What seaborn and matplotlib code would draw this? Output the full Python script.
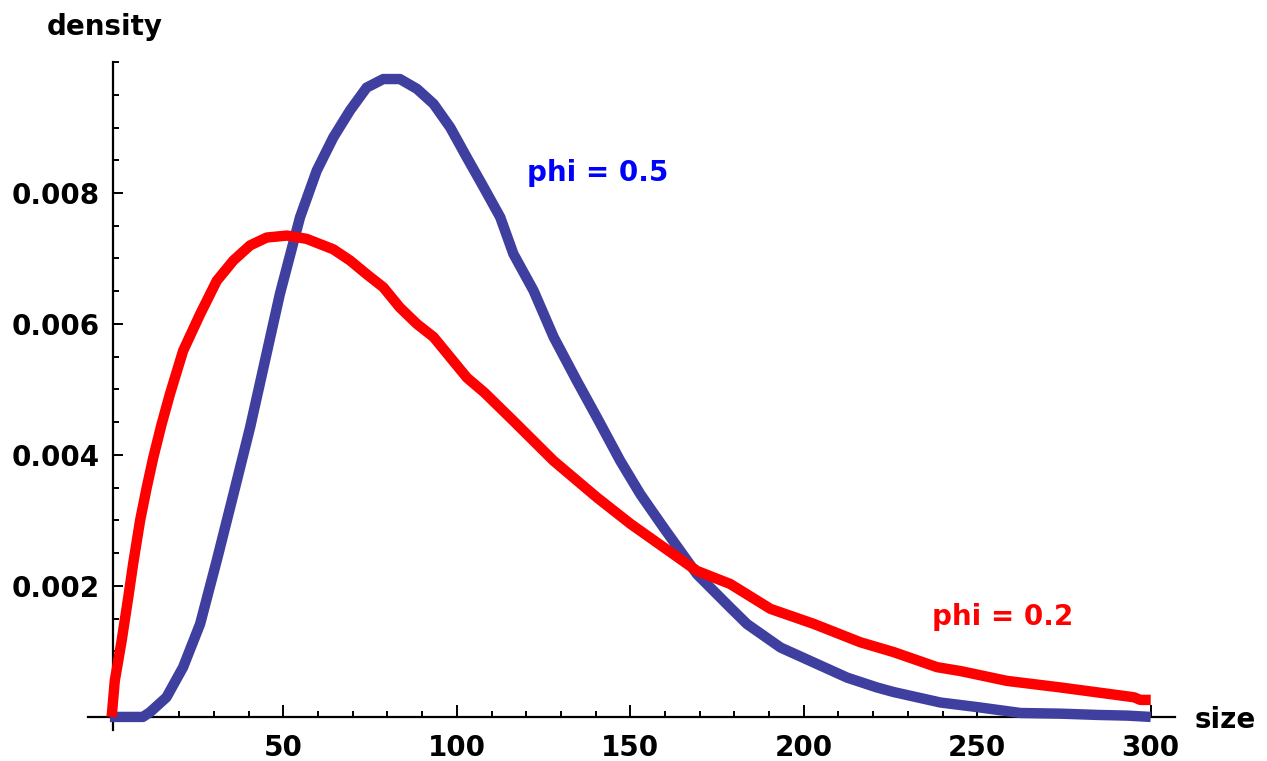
import numpy as np
import pandas as pd
import matplotlib
matplotlib.use("Agg")
import matplotlib.pyplot as plt
from matplotlib.ticker import MultipleLocator, FixedLocator
import seaborn as sns

# Density of size for two values of phi
size_phi05 = [0, 5, 9.5, 11.5, 16.3, 21.1, 26, 30.8, 35.6, 40.4, 49, 54.8, 59.6,
              64.4, 69.2, 74, 78.8, 83.6, 88.5, 93.3, 98.1, 102.9, 107.7, 112.5,
              116.3, 122.1, 127.9, 134.6, 140.4, 147.1, 152.9, 159.6, 169.2,
              178.8, 183.6, 193.3, 202.9, 212.5, 221.1, 225.9, 239.4, 250,
              262.5, 274, 285, 293.3, 300]
dens_phi05 = [0, 0, 0, 0.00007, 0.0003, 0.00076, 0.00142, 0.00239, 0.0034,
              0.00442, 0.00646, 0.00763, 0.00834, 0.00885, 0.00926, 0.00961,
              0.00974, 0.00974, 0.00959, 0.00936, 0.009, 0.00854, 0.00809,
              0.00763, 0.00707, 0.00651, 0.0058, 0.00513, 0.00457, 0.00391,
              0.0034, 0.00289, 0.00218, 0.00167, 0.00142, 0.00106, 0.00083,
              0.0006, 0.00045, 0.00038, 0.00022, 0.00015, 0.00006, 0.00005,
              0.00003, 0.00002, 0.0]

size_phi02 = [0.5, 1.4, 3.4, 5.3, 6.7, 8.7, 10.6, 12.5, 14.9, 17.3, 21.1, 26,
              30.8, 35.6, 40.4, 45.2, 51, 56.7, 64.4, 69.2, 74, 78.8, 83.6,
              88.5, 93.3, 102.9, 108, 116.3, 127.9, 140.4, 150, 159.6, 169.2,
              178.8, 190.4, 202.9, 216.3, 225.9, 238.4, 245.2, 258.6, 274,
              295.2, 297, 300]
dens_phi02 = [0, 0.00055, 0.00117, 0.00183, 0.00234, 0.003, 0.0035, 0.00396,
              0.00447, 0.00493, 0.00559, 0.00615, 0.00666, 0.00697, 0.0072,
              0.00732, 0.00735, 0.0073, 0.00714, 0.00697, 0.00676, 0.00656,
              0.00625, 0.006, 0.0058, 0.00518, 0.00495, 0.00452, 0.00391,
              0.00335, 0.00295, 0.00259, 0.00223, 0.00203, 0.00165, 0.00142,
              0.00114, 0.00099, 0.00076, 0.0007, 0.00055, 0.00045, 0.0003,
              0.00026, 0.00026]

x_ticks = [50, 100, 150, 200, 250, 300]
y_ticks = [0.002, 0.004, 0.006, 0.008]

sns.set_style("white")
plt.rcParams["font.family"] = ["DejaVu Sans"]
plt.rcParams["font.weight"] = "bold"
plt.rcParams["text.color"] = "black"

df05 = pd.DataFrame({"size": size_phi05, "density": dens_phi05})
df02 = pd.DataFrame({"size": size_phi02, "density": dens_phi02})

fig = plt.figure(figsize=(12.67, 7.61), dpi=100)
ax = fig.add_axes([0.0695, 0.0407, 0.8579, 0.8778])

sns.lineplot(data=df05, x="size", y="density", ax=ax, color="#3f3f9f",
             linewidth=7.5, solid_capstyle="butt", solid_joinstyle="round",
             zorder=3)
sns.lineplot(data=df02, x="size", y="density", ax=ax, color="#ff0000",
             linewidth=7.5, solid_capstyle="butt", solid_joinstyle="round",
             zorder=4)

ax.set_xlim(-6.3, 307)
ax.set_ylim(-0.0002, 0.0100)

for side in ("top", "right"):
    ax.spines[side].set_visible(False)
ax.spines["left"].set_position(("data", 0.8))
ax.spines["bottom"].set_position(("data", 0))
for side in ("left", "bottom"):
    ax.spines[side].set_linewidth(1.6)
    ax.spines[side].set_color("black")
    ax.spines[side].set_zorder(2)

ax.xaxis.set_major_locator(FixedLocator(x_ticks))
ax.xaxis.set_minor_locator(MultipleLocator(10))
ax.yaxis.set_major_locator(FixedLocator(y_ticks))
ax.yaxis.set_minor_locator(MultipleLocator(0.0005))
ax.set_xticklabels([str(t) for t in x_ticks])
ax.set_yticklabels([f"{t:.3f}" for t in y_ticks])

ax.tick_params(which="both", bottom=True, left=True, top=False, right=False,
               color="black")
ax.tick_params(axis="x", which="major", direction="in", length=8.5, width=1.4,
               labelsize=20, pad=12, labelcolor="black")
ax.tick_params(axis="x", which="minor", direction="in", length=4.5, width=1.4)
ax.tick_params(axis="y", which="major", direction="in", length=7, width=1.4,
               labelsize=20, pad=9, labelcolor="black")
ax.tick_params(axis="y", which="minor", direction="in", length=4, width=1.4)
for lab in ax.get_xticklabels() + ax.get_yticklabels():
    lab.set_fontweight("bold")

ax.set_xlabel("")
ax.set_ylabel("")
fig.text(105 / 1267, 1 - 27 / 761, "density", fontsize=20, fontweight="bold",
         color="black", ha="center", va="center")
fig.text(1195 / 1267, 1 - 720 / 761, "size", fontsize=20, fontweight="bold",
         color="black", ha="left", va="center")

ax.text(140.5, 0.00831, "phi = 0.5", color="#0000ff", fontsize=20,
        fontweight="bold", ha="center", va="center")
ax.text(257.3, 0.00152, "phi = 0.2", color="#ff0000", fontsize=20,
        fontweight="bold", ha="center", va="center")

fig.savefig("out.png", dpi=100)
